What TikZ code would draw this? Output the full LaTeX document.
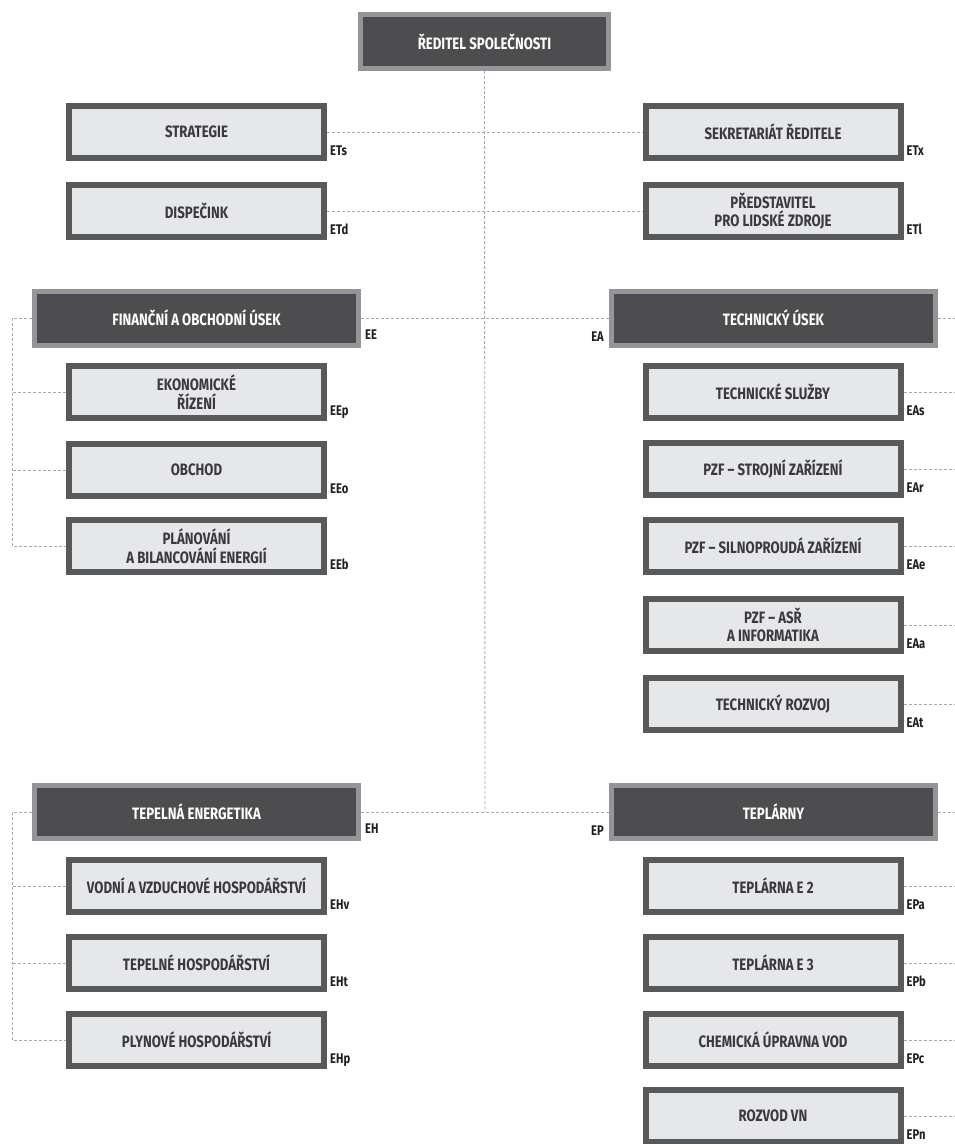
\documentclass[tikz,border=0pt]{standalone}
\usepackage{fontspec}
\setmainfont{Fira Sans}[FakeStretch=0.8]
\usetikzlibrary{calc}
\definecolor{headfill}{HTML}{4D4D4F}
\definecolor{headedge}{HTML}{939598}
\definecolor{subfill}{HTML}{E6E7E8}
\definecolor{subedge}{HTML}{58595B}
\definecolor{dashcol}{HTML}{A7A9AC}
\definecolor{txtdark}{HTML}{3A3A3C}
\definecolor{codecol}{HTML}{231F20}
\begin{document}
\begin{tikzpicture}[x=1pt,y=-1pt,
  headbox/.style={draw=headedge,fill=headfill,line width=5pt,inner sep=0pt,
    minimum height=54pt,text=white,font=\fontsize{16.5}{18}\selectfont\bfseries,align=center},
  subbox/.style={draw=subedge,fill=subfill,line width=6pt,inner sep=0pt,
    minimum width=255pt,minimum height=52pt,text=txtdark,
    font=\fontsize{16.5}{18.5}\selectfont\bfseries,align=center},
  code/.style={inner sep=0pt,text=codecol,font=\fontsize{14}{16}\selectfont\bfseries},
  conn/.style={draw=dashcol,line width=0.9pt,dash pattern=on 3pt off 2pt}]
\useasboundingbox (0,0) rectangle (955,1144);
\fill[white] (0,0) rectangle (955,1144);

% top
\node[headbox,minimum width=248pt] (dir) at (484.5,41.5) {ŘEDITEL SPOLEČNOSTI};

% staff
\node[subbox] (strat) at (196.5,132) {STRATEGIE};
\node[subbox] (disp) at (196.5,211) {DISPEČINK};
\node[subbox] (sekr) at (773,132) {SEKRETARIÁT ŘEDITELE};
\node[subbox] (pred) at (773,211) {PŘEDSTAVITEL\\PRO LIDSKÉ ZDROJE};

% heads
\node[headbox,minimum width=324pt] (fin) at (196.5,318) {FINANČNÍ A OBCHODNÍ ÚSEK};
\node[headbox,minimum width=324pt] (tech) at (773.5,318) {TECHNICKÝ ÚSEK};
\node[headbox,minimum width=324pt,minimum height=53pt] (tepe) at (196.5,812) {TEPELNÁ ENERGETIKA};
\node[headbox,minimum width=324pt,minimum height=53pt] (tepl) at (773.5,812) {TEPLÁRNY};

% finance subs
\node[subbox] (ekon) at (196.5,392) {EKONOMICKÉ\\ŘÍZENÍ};
\node[subbox] (obch) at (196.5,470) {OBCHOD};
\node[subbox] (plan) at (196.5,546) {PLÁNOVÁNÍ\\A BILANCOVÁNÍ ENERGIÍ};

% technical subs
\node[subbox] (tsl) at (773,392) {TECHNICKÉ SLUŽBY};
\node[subbox] (pzfs) at (773,469) {PZF – STROJNÍ ZAŘÍZENÍ};
\node[subbox] (pzfe) at (773,546) {PZF – SILNOPROUDÁ ZAŘÍZENÍ};
\node[subbox] (pzfa) at (773,625) {PZF – ASŘ\\A INFORMATIKA};
\node[subbox] (trozv) at (773,704) {TECHNICKÝ ROZVOJ};

% heat subs
\node[subbox] (vod) at (196.5,886) {VODNÍ A VZDUCHOVÉ HOSPODÁŘSTVÍ};
\node[subbox] (tep) at (196.5,963) {TEPELNÉ HOSPODÁŘSTVÍ};
\node[subbox] (ply) at (196.5,1040) {PLYNOVÉ HOSPODÁŘSTVÍ};

% plant subs
\node[subbox] (e2) at (773,886) {TEPLÁRNA E 2};
\node[subbox] (e3) at (773,963) {TEPLÁRNA E 3};
\node[subbox] (chem) at (773,1040) {CHEMICKÁ ÚPRAVNA VOD};
\node[subbox] (vn) at (773,1116) {ROZVOD VN};

% codes
\foreach \n/\t in {strat/ETs,disp/ETd,sekr/ETx,pred/ETl,ekon/EEp,obch/EEo,plan/EEb,
  tsl/EAs,pzfs/EAr,pzfe/EAe,pzfa/EAa,trozv/EAt,vod/EHv,tep/EHt,ply/EHp,
  e2/EPa,e3/EPb,chem/EPc,vn/EPn}
  \node[code,anchor=base west] (c\n) at ($(\n.south east)+(3,-6)$) {\t};
\node[code,anchor=base west] (cfin) at ($(fin.south east)+(4,-8)$) {EE};
\node[code,anchor=base west] (ctepe) at ($(tepe.south east)+(4,-8)$) {EH};
\node[code,anchor=base east] (ctech) at ($(tech.south west)+(-5,-6)$) {EA};
\node[code,anchor=base east] (ctepl) at ($(tepl.south west)+(-5,-6)$) {EP};

% connectors
\coordinate (spine) at (485,812);
\coordinate (lx) at (12,0);
\coordinate (rx) at (955,0);
\draw[conn] (dir.south) -- (spine);
\draw[conn] (strat.east) -- (sekr.west);
\draw[conn] (disp.east) -- (pred.west);
\draw[conn] (fin.east) -- (tech.west);
\draw[conn] (tepe.east) -- (tepl.west);

\draw[conn] (fin.west) -- (fin.west -| lx) |- (plan.west);
\draw[conn] (ekon.west) -- (ekon.west -| lx);
\draw[conn] (obch.west) -- (obch.west -| lx);
\draw[conn] (tepe.west) -- (tepe.west -| lx) |- (ply.west);
\draw[conn] (vod.west) -- (vod.west -| lx);
\draw[conn] (tep.west) -- (tep.west -| lx);

\foreach \n in {tech,tsl,pzfs,pzfe,pzfa,trozv,tepl,e2,e3,chem,vn}
  \draw[conn] (\n.east) -- (\n.east -| rx);
\end{tikzpicture}
\end{document}
